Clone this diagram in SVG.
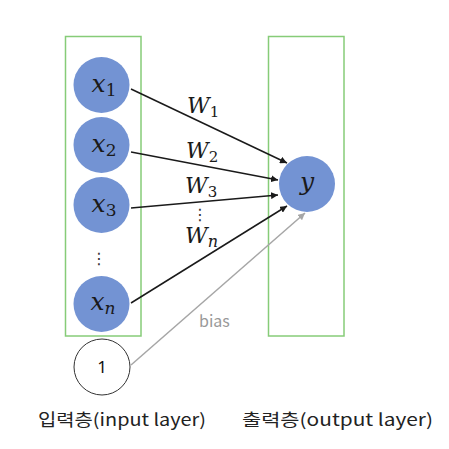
<svg xmlns="http://www.w3.org/2000/svg" width="449" height="449" viewBox="0 0 449 449">
<style>
.layer{fill:none;stroke:#86CC78;stroke-width:1.5}
.node{fill:#7393D3}
.math{font-family:"DejaVu Serif",serif;font-style:italic;fill:#1a1a1a}
.sub{font-style:normal;font-size:17px}
.subi{font-style:italic;font-size:17px}
.lbl{font-family:"Noto Sans CJK KR","Noto Sans",sans-serif;font-size:17px;fill:#222}
.dots{font-family:"DejaVu Sans",sans-serif;font-size:16px;fill:#333}
.edge{stroke:#1a1a1a;stroke-width:1.5;fill:none;marker-end:url(#ah)}
.bias{stroke:#A6A6A6;stroke-width:1.5;fill:none;marker-end:url(#ahg)}
</style>
<defs>
<marker id="ah" viewBox="0 0 10 10" refX="10" refY="5" markerWidth="7" markerHeight="7" markerUnits="userSpaceOnUse" orient="auto"><path d="M0,0L10,5L0,10z" fill="#1a1a1a"/></marker>
<marker id="ahg" viewBox="0 0 10 10" refX="10" refY="5" markerWidth="7" markerHeight="7" markerUnits="userSpaceOnUse" orient="auto"><path d="M0,0L10,5L0,10z" fill="#A6A6A6"/></marker>
</defs>
<rect width="449" height="449" fill="#fff"/>
<g id="input-layer"><rect class="layer" x="65.5" y="36.5" width="75.5" height="299.5"/></g>
<g id="output-layer"><rect class="layer" x="268.5" y="36.5" width="75.5" height="299.5"/></g>
<g id="connectors">
<line class="edge" x1="131" y1="89" x2="287" y2="163"/>
<line class="edge" x1="131" y1="152" x2="278" y2="180"/>
<line class="edge" x1="131" y1="208" x2="278" y2="195"/>
<line class="edge" x1="131" y1="303" x2="287" y2="206"/>
<line class="bias" x1="131" y1="365" x2="305" y2="213"/>
<text class="math" x="187" y="113" font-size="22">W<tspan class="sub" style="font-size:15px" dy="4">1</tspan></text>
<text class="math" x="186" y="158" font-size="22">W<tspan class="sub" style="font-size:15px" dy="4">2</tspan></text>
<text class="math" x="185" y="193" font-size="22">W<tspan class="sub" style="font-size:15px" dy="4">3</tspan></text>
<text class="math" x="185" y="243" font-size="22">W<tspan class="subi" style="font-size:16px" dy="4">n</tspan></text>
<text class="dots" x="200" y="220" text-anchor="middle">⋮</text>
<text x="199" y="327" font-family="Noto Sans CJK KR,Noto Sans,sans-serif" font-size="16" fill="#999">bias</text>
</g>
<g id="x1"><circle class="node" cx="101.5" cy="85" r="28"/><text class="math" x="104" y="92" font-size="25" text-anchor="middle">x<tspan class="sub" dy="4">1</tspan></text></g>
<g id="x2"><circle class="node" cx="101.5" cy="145" r="28"/><text class="math" x="104" y="152" font-size="25" text-anchor="middle">x<tspan class="sub" dy="4">2</tspan></text></g>
<g id="x3"><circle class="node" cx="101.5" cy="205" r="28"/><text class="math" x="104" y="212" font-size="25" text-anchor="middle">x<tspan class="sub" dy="4">3</tspan></text></g>
<g id="dots-input"><text class="dots" x="99" y="264" text-anchor="middle">⋮</text></g>
<g id="xn"><circle class="node" cx="101.5" cy="304" r="28"/><text class="math" x="103" y="310" font-size="25" text-anchor="middle">x<tspan class="subi" dy="4">n</tspan></text></g>
<g id="one"><circle cx="102" cy="367" r="28" fill="#fff" stroke="#333" stroke-width="1"/><text x="102" y="373" font-family="Noto Sans,sans-serif" font-size="17" text-anchor="middle" fill="#111">1</text></g>
<g id="y"><circle class="node" cx="307" cy="184" r="28"/><text class="math" x="307" y="190" font-size="25" text-anchor="middle">y</text></g>
<g id="labels">
<text class="lbl" x="38" y="426" textLength="168" lengthAdjust="spacingAndGlyphs">입력층(input layer)</text>
<text class="lbl" x="242" y="426" textLength="191" lengthAdjust="spacingAndGlyphs">출력층(output layer)</text>
</g>
</svg>
